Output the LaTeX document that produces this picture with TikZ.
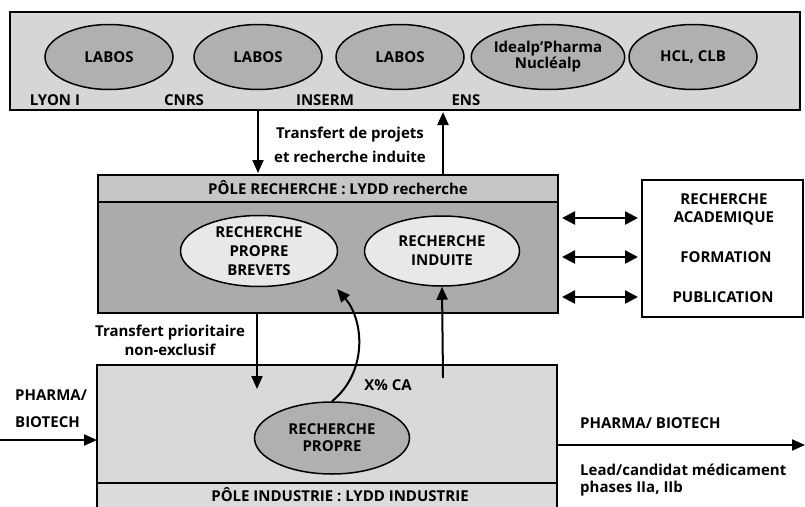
\documentclass[tikz,border=0pt]{standalone}
\usepackage{fontspec}
\setmainfont{Open Sans}
\usetikzlibrary{shapes.geometric,arrows.meta}
\begin{document}
\begin{tikzpicture}[x=1pt,y=-1pt,
  txt/.style={font=\fontsize{15}{18}\selectfont\bfseries, inner sep=0pt},
  lab/.style={txt, align=center},
  oval/.style={ellipse, draw=black, line width=1.5pt, inner sep=0pt, align=center, font=\fontsize{15}{18}\selectfont\bfseries},
  darkoval/.style={oval, fill=gray!62, minimum width=128pt, minimum height=65pt},
  lightoval/.style={oval, fill=gray!18, minimum width=157pt, minimum height=71pt},
  boxline/.style={draw=black, line width=1.6pt},
  arr/.style={line width=2pt, -{Triangle[length=13pt,width=11pt]}},
  darr/.style={line width=2.4pt, {Triangle[length=13pt,width=13pt]}-{Triangle[length=13pt,width=13pt]}}
]
\useasboundingbox (0,0) rectangle (805,506);
\fill[white] (0,0) rectangle (805,506);

% top box
\draw[boxline, fill=gray!32] (10,12) rectangle (800,110);
\node[darkoval] (l1) at (109,57) {LABOS};
\node[darkoval] (l2) at (258,57) {LABOS};
\node[darkoval] (l3) at (400,57) {LABOS};
\node[darkoval] (l4) at (548,57) {Idealp'Pharma\\[-2pt]Nucléalp};
\node[darkoval] (l5) at (693,57) {HCL, CLB};
\node[txt] (t1) at (55,100) {LYON I};
\node[txt] (t2) at (184,100) {CNRS};
\node[txt] (t3) at (325,100) {INSERM};
\node[txt] (t4) at (466,100) {ENS};

% research pole
\fill[gray!45] (98,175) rectangle (558,202);
\fill[gray!66] (98,202) rectangle (558,313);
\draw[boxline] (98,175) rectangle (558,313);
\draw[boxline] (98,202) -- (558,202);
\node[txt] (rh) at (338,188) {PÔLE RECHERCHE : LYDD recherche};
\node[lightoval] (rb) at (259,251) {RECHERCHE\\[1pt]PROPRE\\[1pt]BREVETS};
\node[lightoval, minimum width=155pt, minimum height=70pt] (ri) at (442,251) {RECHERCHE\\[1pt]INDUITE};

% arrows top <-> research
\coordinate (d1s) at (258,110);
\coordinate (d1e) at (258,173);
\coordinate (u1s) at (443,175);
\coordinate (u1e) at (443,112);
\draw[arr] (d1s) -- (d1e);
\draw[arr] (u1s) -- (u1e);
\node[lab] (tp) at (350,145) {Transfert de projets\\[6pt]et recherche induite};

% right box
\draw[boxline] (642,180) rectangle (803,317);
\node[lab] (ra) at (724,209) {RECHERCHE\\ACADEMIQUE};
\node[txt] (rf) at (726,257) {FORMATION};
\node[txt] (rp) at (723,297) {PUBLICATION};
\coordinate (da1) at (562,218); \coordinate (db1) at (638,218);
\coordinate (da2) at (562,257); \coordinate (db2) at (638,257);
\coordinate (da3) at (562,297); \coordinate (db3) at (638,297);
\draw[darr] (da1) -- (db1);
\draw[darr] (da2) -- (db2);
\draw[darr] (da3) -- (db3);

% industry pole
\fill[gray!30] (97,365) rectangle (557,483);
\fill[gray!28] (97,483) rectangle (557,510);
\draw[boxline] (97,510) -- (97,365) -- (557,365) -- (557,510);
\draw[boxline] (97,483) -- (557,483);
\node[txt] (ih) at (340,495) {PÔLE INDUSTRIE : LYDD INDUSTRIE};
\node[darkoval, minimum width=155pt, minimum height=72pt] (ip) at (332,438) {RECHERCHE\\[-1pt]PROPRE};

% arrows research <-> industry
\node[lab] (tpr) at (170,340) {Transfert prioritaire\\[1pt]non-exclusif};
\coordinate (d2s) at (257,313);
\coordinate (d2e) at (257,389);
\draw[arr] (d2s) -- (d2e);
\coordinate (u2s) at (443,378);
\draw[arr] (u2s) -- (ri.south);
\coordinate (ctip) at (337,289);
\draw[arr] (ip.north) .. controls (368,372) and (364,320) .. (ctip);
\node[txt] (xca) at (388,385) {X\% CA};

% left pharma
\node[txt, anchor=west] (lp1) at (15,395) {PHARMA/};
\node[txt, anchor=west] (lp2) at (15,422) {BIOTECH};
\coordinate (la) at (0,440);
\draw[arr] (la) -- (97,440);

% right pharma
\node[txt, anchor=west] (rp1) at (580,423) {PHARMA/ BIOTECH};
\coordinate (ra1) at (557,445);
\coordinate (ra2) at (805,445);
\draw[arr] (ra1) -- (ra2);
\node[txt, anchor=west] (rl1) at (580,470) {Lead/candidat médicament};
\node[txt, anchor=west] (rl2) at (580,489) {phases IIa, IIb};
\end{tikzpicture}
\end{document}
